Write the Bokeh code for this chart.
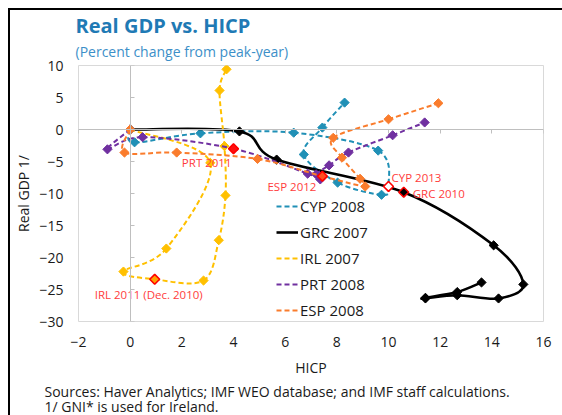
import math
from bokeh.plotting import figure
from bokeh.models import (Range1d, LinearAxis, Legend, LegendItem, FixedTicker,
                          ColumnDataSource, Title)
from bokeh.core.properties import value
from bokeh.embed import file_html
from bokeh.resources import INLINE

FONT = "Open Sans"

# ---------------- data (percent change from peak-year) ----------------
series_names = ["CYP 2008", "GRC 2007", "IRL 2007", "PRT 2008", "ESP 2008"]

cyp_hicp = [0, 0.17, 2.72, 6.33, 9.6, 10.0, 9.73, 8.03, 6.72, 7.44, 8.3]
cyp_gdp = [0, -2.0, -0.6, -0.5, -3.3, -8.9, -10.2, -8.3, -3.9, 0.3, 4.2]

grc_hicp = [0, 4.23, 5.67, 10.59, 14.07, 15.22, 14.26, 12.66, 11.43, 11.43, 12.66, 13.6]
grc_gdp = [0, -0.3, -4.7, -9.8, -18.1, -24.2, -26.4, -25.9, -26.4, -26.3, -25.4, -23.9]

irl_hicp = [0, 3.1, 1.4, -0.26, 0.95, 2.84, 3.43, 3.69, 3.65, 3.46, 3.73]
irl_gdp = [0, -5.2, -18.6, -22.2, -23.4, -23.6, -17.3, -10.3, -2.6, 6.1, 9.4]

prt_hicp = [0, -0.88, 0.48, 4.0, 6.87, 7.36, 7.2, 7.7, 8.45, 10.16, 11.4]
prt_gdp = [0, -3.1, -1.2, -3.0, -6.9, -7.8, -7.0, -5.6, -3.6, -0.9, 1.1]

esp_hicp = [0, -0.22, 1.8, 4.93, 7.44, 9.1, 8.9, 8.2, 7.86, 10.0, 11.93]
esp_gdp = [0, -3.6, -3.6, -4.6, -7.3, -8.9, -7.7, -4.4, -1.3, 1.6, 4.1]

# highlighted observations (series, index within series, label)
hl_series = ["PRT 2008", "ESP 2008", "CYP 2008", "GRC 2007", "IRL 2007"]
hl_index = [3, 4, 5, 3, 4]
hl_text = ["PRT 2011", "ESP 2012", "CYP 2013", "GRC 2010", "IRL 2011 (Dec. 2010)"]

x_ticks = [-2, 0, 2, 4, 6, 8, 10, 12, 14, 16]
y_ticks = [-30, -25, -20, -15, -10, -5, 0, 5, 10]

title_text = "Real GDP vs. HICP"
subtitle_text = "(Percent change from peak-year)"
source_lines = ["Sources: Haver Analytics; IMF WEO database; and IMF staff calculations.",
                "1/ GNI* is used for Ireland."]

# ---------------- styles ----------------
colors = {"CYP 2008": "#2090B6", "GRC 2007": "#000000", "IRL 2007": "#FFC000",
          "PRT 2008": "#7030A0", "ESP 2008": "#FA7C2C"}
dashes = {"CYP 2008": "5 3", "GRC 2007": "solid", "IRL 2007": "5 3",
          "PRT 2008": "5 3", "ESP 2008": "5 3"}
widths = {"CYP 2008": 2, "GRC 2007": 2.6, "IRL 2007": 2, "PRT 2008": 2, "ESP 2008": 2}
label_red = "#FF3C3C"
hl_style = {  # text align, x offset px, y offset px, marker fill
    "PRT 2011": ("right", -2, 14, "#FF1010"),
    "ESP 2012": ("right", -6, 10, "#FF5020"),
    "CYP 2013": ("left", 3, -9, "#FFFFFF"),
    "GRC 2010": ("left", 9, 1, "#000000"),
    "IRL 2011 (Dec. 2010)": ("center", -6, 15, "#FFA000"),
}

data = {
    "CYP 2008": (cyp_hicp, cyp_gdp),
    "GRC 2007": (grc_hicp, grc_gdp),
    "IRL 2007": (irl_hicp, irl_gdp),
    "PRT 2008": (prt_hicp, prt_gdp),
    "ESP 2008": (esp_hicp, esp_gdp),
}


def smooth_segments(xs, ys):
    """Bezier control points of a Catmull-Rom style smoothed line through the data."""
    n = len(xs)
    out = {k: [] for k in ("x0", "y0", "x1", "y1", "cx0", "cy0", "cx1", "cy1")}
    for i in range(n - 1):
        im, ip2 = max(i - 1, 0), min(i + 2, n - 1)
        out["x0"].append(xs[i]); out["y0"].append(ys[i])
        out["x1"].append(xs[i + 1]); out["y1"].append(ys[i + 1])
        out["cx0"].append(xs[i] + (xs[i + 1] - xs[im]) / 6.0)
        out["cy0"].append(ys[i] + (ys[i + 1] - ys[im]) / 6.0)
        out["cx1"].append(xs[i + 1] - (xs[ip2] - xs[i]) / 6.0)
        out["cy1"].append(ys[i + 1] - (ys[ip2] - ys[i]) / 6.0)
    return out


W, H = 562, 415
p = figure(width=W, height=H, output_backend="svg", toolbar_location=None,
           x_range=Range1d(-2, 16), y_range=Range1d(-30, 10),
           min_border_left=78, min_border_right=19, min_border_top=65, min_border_bottom=94)
p.background_fill_color = "white"
p.border_fill_alpha = 0
p.styles = {"background": "linear-gradient(#000,#000) 8px 8px / 2px 100% no-repeat, "
                          "linear-gradient(#000,#000) 8px 8px / 100% 2px no-repeat, #fff"}
p.outline_line_color = "#D9D9D9"
p.outline_line_width = 1
p.xgrid.visible = False
p.ygrid.visible = False

for ax, ticks in ((p.xaxis[0], x_ticks), (p.yaxis[0], y_ticks)):
    ax.ticker = FixedTicker(ticks=ticks)
    ax.axis_line_color = None
    ax.major_tick_line_color = None
    ax.minor_tick_line_color = None
    ax.major_tick_out = 0
    ax.major_tick_in = 0
    ax.major_label_text_font = FONT
    ax.major_label_text_font_size = "14px"
    ax.major_label_text_color = "#1A1A1A"
    ax.axis_label_text_font = FONT
    ax.axis_label_text_font_size = "14px"
    ax.axis_label_text_font_style = "normal"
    ax.axis_label_text_color = "#1A1A1A"
p.xaxis[0].axis_label = "HICP"
p.xaxis[0].major_label_standoff = 15
p.xaxis[0].axis_label_standoff = 8
p.yaxis[0].axis_label = "Real GDP 1/"
p.yaxis[0].major_label_standoff = 15
p.yaxis[0].axis_label_standoff = 3

# axes crossing at zero (grey lines with small ticks, no labels)
zx = LinearAxis(fixed_location=0, ticker=FixedTicker(ticks=y_ticks),
                major_label_overrides={t: "" for t in y_ticks})
zy = LinearAxis(fixed_location=0, ticker=FixedTicker(ticks=x_ticks),
                major_label_overrides={t: "" for t in x_ticks})
for ax in (zx, zy):
    ax.axis_line_color = "#BFBFBF"
    ax.major_tick_line_color = "#BFBFBF"
    ax.minor_tick_line_color = None
zx.major_tick_in = 4
zx.major_tick_out = 0
zy.major_tick_in = 0
zy.major_tick_out = 4
p.add_layout(zx, "left")
p.add_layout(zy, "below")

legend_items = []
for name in series_names:
    xs, ys = data[name]
    seg = ColumnDataSource(smooth_segments(xs, ys))
    br = p.bezier(x0="x0", y0="y0", x1="x1", y1="y1", cx0="cx0", cy0="cy0",
                  cx1="cx1", cy1="cy1", source=seg, line_color=colors[name],
                  line_width=widths[name], line_dash=dashes[name])
    p.scatter(xs, ys, marker="square", angle=math.pi / 4, size=6.5,
              fill_color=colors[name], line_color=colors[name], line_width=1)
    lm = p.scatter(x=[], y=[], marker="diamond", size=8,
                   fill_color=colors[name], line_color=colors[name])
    legend_items.append(LegendItem(label=name, renderers=[br, lm]))

# highlighted points and their labels
hx, hy, hfill, halign, hxo, hyo = [], [], [], [], [], []
for s, i, t in zip(hl_series, hl_index, hl_text):
    xs, ys = data[s]
    hx.append(xs[i]); hy.append(ys[i])
    a, xo, yo, f = hl_style[t]
    halign.append(a); hxo.append(xo); hyo.append(yo); hfill.append(f)
hsrc = ColumnDataSource(dict(x=hx, y=hy, text=hl_text, fill=hfill, align=halign,
                             xo=hxo, yo=hyo))
p.scatter("x", "y", source=hsrc, marker="square", angle=math.pi / 4, size=7,
          fill_color="fill", line_color="#FF0000", line_width=1.6)
p.text("x", "y", text="text", source=hsrc, x_offset="xo", y_offset="yo",
       text_align="align", text_baseline="middle", text_color=label_red,
       text_font=value(FONT), text_font_size="11.5px")

legend = Legend(items=legend_items, location=(198, 1), orientation="vertical")
legend.background_fill_alpha = 0
legend.border_line_color = None
legend.label_text_font = FONT
legend.label_text_font_size = "15px"
legend.label_text_color = "#1A1A1A"
legend.glyph_width = 22
legend.glyph_height = 20
legend.label_height = 20
legend.label_standoff = 2
legend.spacing = 6
legend.padding = 0
legend.margin = 0
p.add_layout(legend)

# title and subtitle (subtitle added first: it sits next to the plot)
p.add_layout(Title(text=subtitle_text, text_font=FONT, text_font_size="14px",
                   text_font_style="normal", text_color="#3C8FC8", align="left",
                   offset=-3, standoff=9), "above")
p.add_layout(Title(text=title_text, text_font=FONT, text_font_size="20px",
                   text_font_style="bold", text_color="#1F7AB5", align="left",
                   offset=-3, standoff=-6), "above")

# source notes below the axis (standoffs tune their vertical placement)
for line, so in zip(source_lines, (4, -16)):
    p.add_layout(Title(text=line, text_font=FONT, text_font_size="14px",
                       text_font_style="normal", text_color="#1A1A1A", align="left",
                       vertical_align="top", offset=-34, standoff=so), "below")

open("out.html", "w").write(file_html(p, INLINE))
